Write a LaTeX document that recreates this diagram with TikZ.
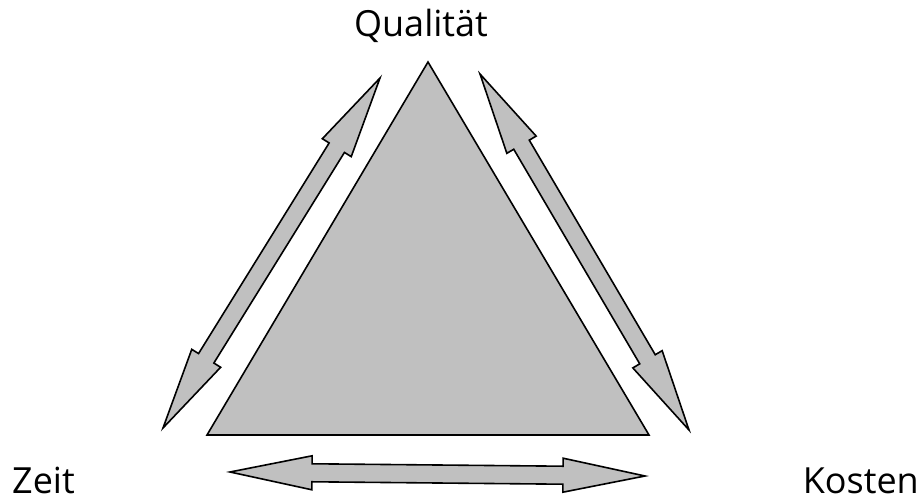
\documentclass[tikz,border=0pt]{standalone}
\usepackage{fontspec}
\setmainfont{Open Sans}
\usetikzlibrary{calc}
\tikzset{
  shapefill/.style={draw=black, fill=silverfill, line width=1.6pt, line join=miter},
  lbl/.style={inner sep=0pt, font=\fontsize{36}{40}\selectfont}
}
\definecolor{silverfill}{RGB}{192,192,192}
\newcommand\dblarr[2]{%
  \coordinate (H1) at ($(#1)!82pt!(#2)$);
  \coordinate (H2) at ($(#2)!82pt!(#1)$);
  \draw[shapefill] (#1) -- ($(H1)!17pt!90:(#1)$) -- ($(H1)!9pt!90:(#1)$)
    -- ($(H2)!9pt!-90:(#2)$) -- ($(H2)!17pt!-90:(#2)$) -- (#2)
    -- ($(H2)!17pt!90:(#2)$) -- ($(H2)!9pt!90:(#2)$)
    -- ($(H1)!9pt!-90:(#1)$) -- ($(H1)!17pt!-90:(#1)$) -- cycle;
}
\begin{document}
\begin{tikzpicture}[x=1pt,y=-1pt]
  \useasboundingbox (0,0) rectangle (922,497);
  % triangle
  \coordinate (top) at (428,62);
  \coordinate (bl) at (207,435);
  \coordinate (br) at (649,435);
  \draw[shapefill] (top) -- (bl) -- (br) -- cycle;
  % arrows
  \coordinate (la) at (163,428);
  \coordinate (lb) at (380,78);
  \coordinate (ra) at (480,74);
  \coordinate (rb) at (689,430);
  \coordinate (ba) at (230,472);
  \coordinate (bb) at (645,476);
  \dblarr{la}{lb}
  \dblarr{ra}{rb}
  \dblarr{ba}{bb}
  % labels
  \node[lbl, anchor=base] (q) at (421,37) {Qualität};
  \node[lbl, anchor=base west] (z) at (12,493) {Zeit};
  \node[lbl, anchor=base east] (k) at (919,493) {Kosten};
\end{tikzpicture}
\end{document}
